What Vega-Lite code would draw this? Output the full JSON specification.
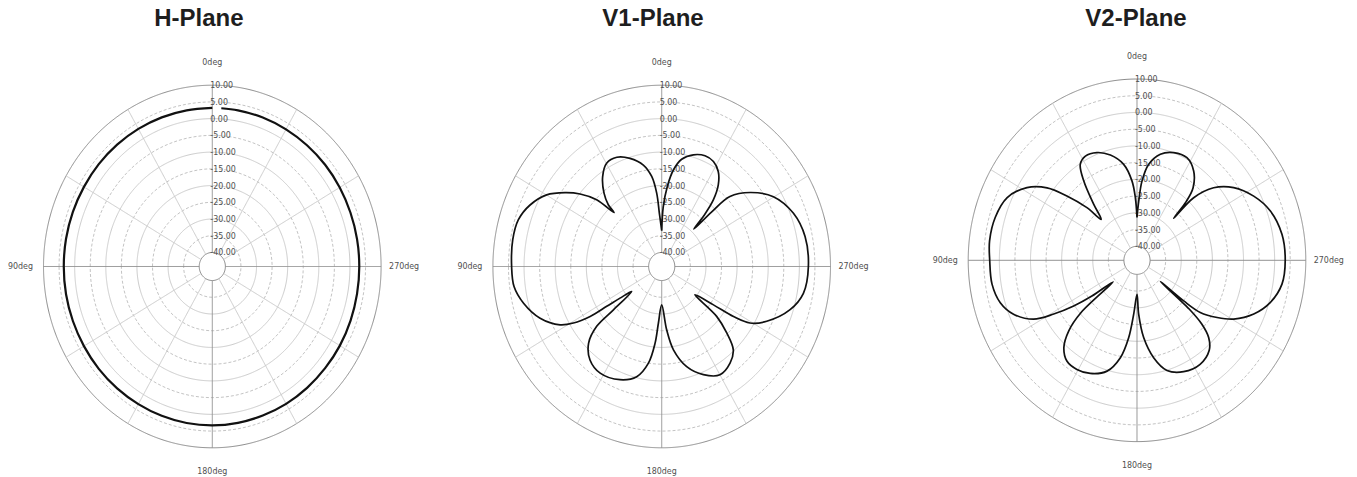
{
  "$schema": "https://vega.github.io/schema/vega-lite/v6.json",
  "padding": 0,
  "spacing": 0,
  "bounds": "flush",
  "config": {
    "view": {"stroke": null},
    "locale": {"number": {"decimal": ".", "thousands": ",", "grouping": [3], "currency": ["$", ""], "minus": "-"}},
    "title": {"font": "Liberation Sans", "fontSize": 24, "fontWeight": "bold", "color": "#1e1e1e", "baseline": "alphabetic", "offset": -30.5, "anchor": "middle"},
    "text": {"font": "Liberation Sans Narrow, DejaVu Sans Condensed, Arial Narrow, Liberation Sans, sans-serif", "fontSize": 8.8, "color": "#505050"}
  },
  "datasets": {
    "rings": [
      {"dB": -40, "kind": "edge"}, {"dB": -35, "kind": "minor"}, {"dB": -30, "kind": "major"},
      {"dB": -25, "kind": "minor"}, {"dB": -20, "kind": "major"}, {"dB": -15, "kind": "minor"},
      {"dB": -10, "kind": "major"}, {"dB": -5, "kind": "minor"}, {"dB": 0, "kind": "major"},
      {"dB": 5, "kind": "minor"}, {"dB": 10, "kind": "edge"}
    ],
    "spokes": [
      {"angle": 0, "kind": "axis"}, {"angle": 30, "kind": "grid"}, {"angle": 60, "kind": "grid"},
      {"angle": 90, "kind": "axis"}, {"angle": 120, "kind": "grid"}, {"angle": 150, "kind": "grid"},
      {"angle": 180, "kind": "axis"}, {"angle": 210, "kind": "grid"}, {"angle": 240, "kind": "grid"},
      {"angle": 270, "kind": "axis"}, {"angle": 300, "kind": "grid"}, {"angle": 330, "kind": "grid"}
    ],
    "anglabels": [
      {"angle": 0, "label": "0deg"}, {"angle": 90, "label": "90deg"},
      {"angle": 180, "label": "180deg"}, {"angle": 270, "label": "270deg"}
    ],
    "h": [
      {"angle": 0, "dB": 3.2}, {"angle": 10, "dB": 3.2}, {"angle": 20, "dB": 3.25}, {"angle": 30, "dB": 3.3},
      {"angle": 40, "dB": 3.35}, {"angle": 50, "dB": 3.4}, {"angle": 60, "dB": 3.4}, {"angle": 70, "dB": 3.45},
      {"angle": 80, "dB": 3.5}, {"angle": 90, "dB": 3.5}, {"angle": 100, "dB": 3.5}, {"angle": 110, "dB": 3.45},
      {"angle": 120, "dB": 3.4}, {"angle": 130, "dB": 3.4}, {"angle": 140, "dB": 3.35}, {"angle": 150, "dB": 3.3},
      {"angle": 160, "dB": 3.3}, {"angle": 170, "dB": 3.3}, {"angle": 180, "dB": 3.3}, {"angle": 190, "dB": 3.25},
      {"angle": 200, "dB": 3.2}, {"angle": 210, "dB": 3.2}, {"angle": 220, "dB": 3.15}, {"angle": 230, "dB": 3.1},
      {"angle": 240, "dB": 3.1}, {"angle": 250, "dB": 3.05}, {"angle": 260, "dB": 3.0}, {"angle": 270, "dB": 3.0},
      {"angle": 280, "dB": 3.0}, {"angle": 290, "dB": 3.0}, {"angle": 300, "dB": 3.05}, {"angle": 310, "dB": 3.1},
      {"angle": 320, "dB": 3.1}, {"angle": 330, "dB": 3.15}, {"angle": 340, "dB": 3.2}, {"angle": 350, "dB": 3.2},
      {"angle": 356.5, "dB": 3.2}
    ],
    "v1": [
      {"angle": 0, "dB": -33.5}, {"angle": 2.7, "dB": -28.3}, {"angle": 4.2, "dB": -22.2}, {"angle": 6.8, "dB": -17.1},
      {"angle": 11.0, "dB": -13.3}, {"angle": 17.5, "dB": -10.3}, {"angle": 23.8, "dB": -8.5}, {"angle": 29.8, "dB": -8.6},
      {"angle": 35.2, "dB": -11.3}, {"angle": 40.2, "dB": -15.5}, {"angle": 42.9, "dB": -19.0}, {"angle": 43.5, "dB": -22.0},
      {"angle": 46.3, "dB": -15.3}, {"angle": 50.4, "dB": -10.2}, {"angle": 54.6, "dB": -6.1}, {"angle": 59.9, "dB": -1.5},
      {"angle": 66.5, "dB": 1.9}, {"angle": 73.1, "dB": 3.9}, {"angle": 80.5, "dB": 4.3}, {"angle": 90, "dB": 4.0},
      {"angle": 97.2, "dB": 3.6}, {"angle": 103.9, "dB": 1.5}, {"angle": 111.6, "dB": -2.2}, {"angle": 118.1, "dB": -7.2},
      {"angle": 120.8, "dB": -11.2}, {"angle": 123.0, "dB": -16.8}, {"angle": 124.0, "dB": -22.9}, {"angle": 125.2, "dB": -27.8},
      {"angle": 127.8, "dB": -32.0}, {"angle": 129.9, "dB": -24.0}, {"angle": 130.6, "dB": -16.7}, {"angle": 134.3, "dB": -11.4},
      {"angle": 140.5, "dB": -8.0}, {"angle": 148.2, "dB": -6.7}, {"angle": 158.4, "dB": -7.8}, {"angle": 166.3, "dB": -10.3},
      {"angle": 171.6, "dB": -15.0}, {"angle": 174.7, "dB": -21.2}, {"angle": 176.4, "dB": -27.2}, {"angle": 180, "dB": -32.7},
      {"angle": 184.8, "dB": -25.2}, {"angle": 188.6, "dB": -19.0}, {"angle": 195.0, "dB": -13.2}, {"angle": 202.5, "dB": -9.2},
      {"angle": 210.0, "dB": -6.8}, {"angle": 217.2, "dB": -7.9}, {"angle": 222.7, "dB": -10.3}, {"angle": 226.4, "dB": -15.3},
      {"angle": 229.8, "dB": -21.1}, {"angle": 231.6, "dB": -30.6}, {"angle": 235.4, "dB": -24.0}, {"angle": 237.0, "dB": -16.7},
      {"angle": 239.2, "dB": -11.2}, {"angle": 244.1, "dB": -6.7}, {"angle": 252.6, "dB": -1.0}, {"angle": 260.0, "dB": 2.0},
      {"angle": 270.0, "dB": 2.9}, {"angle": 281.0, "dB": 2.7}, {"angle": 290.6, "dB": 1.0}, {"angle": 300.2, "dB": -2.7},
      {"angle": 307.9, "dB": -8.2}, {"angle": 313.7, "dB": -13.9}, {"angle": 315.5, "dB": -21.4}, {"angle": 317.3, "dB": -29.0},
      {"angle": 318.3, "dB": -23.8}, {"angle": 320.2, "dB": -18.3}, {"angle": 323.3, "dB": -13.8}, {"angle": 327.4, "dB": -10.5},
      {"angle": 332.1, "dB": -8.7}, {"angle": 337.2, "dB": -8.3}, {"angle": 343.1, "dB": -9.3}, {"angle": 348.7, "dB": -11.5},
      {"angle": 352.6, "dB": -15.1}, {"angle": 355.7, "dB": -20.2}, {"angle": 358.4, "dB": -26.3}, {"angle": 360, "dB": -33.5}
    ],
    "v2": [
      {"angle": 0, "dB": -31.4}, {"angle": 1.6, "dB": -25.5}, {"angle": 3.9, "dB": -20.4}, {"angle": 8.5, "dB": -15.2},
      {"angle": 15.2, "dB": -11.6}, {"angle": 21.8, "dB": -9.5}, {"angle": 28.0, "dB": -8.9}, {"angle": 32.4, "dB": -10.2},
      {"angle": 35.8, "dB": -15.0}, {"angle": 39.7, "dB": -22.4}, {"angle": 43.2, "dB": -27.4}, {"angle": 45.6, "dB": -21.7},
      {"angle": 49.5, "dB": -14.6}, {"angle": 53.1, "dB": -8.1}, {"angle": 58.4, "dB": -2.7}, {"angle": 65.8, "dB": 1.5},
      {"angle": 74.3, "dB": 3.1}, {"angle": 83.0, "dB": 3.5}, {"angle": 90, "dB": 3.1}, {"angle": 98.7, "dB": 2.9},
      {"angle": 106.1, "dB": 1.5}, {"angle": 112.1, "dB": -1.4}, {"angle": 117.9, "dB": -6.6}, {"angle": 121.0, "dB": -13.0},
      {"angle": 123.9, "dB": -19.7}, {"angle": 126.4, "dB": -26.2}, {"angle": 130.0, "dB": -34.2}, {"angle": 131.0, "dB": -20.5},
      {"angle": 133.9, "dB": -13.8}, {"angle": 138.0, "dB": -9.1}, {"angle": 143.2, "dB": -6.6}, {"angle": 149.4, "dB": -6.3},
      {"angle": 156.1, "dB": -7.2}, {"angle": 163.8, "dB": -9.7}, {"angle": 169.6, "dB": -14.6}, {"angle": 173.4, "dB": -20.9},
      {"angle": 176.2, "dB": -28.0}, {"angle": 180, "dB": -34.0}, {"angle": 181.9, "dB": -28.1}, {"angle": 185.3, "dB": -21.0},
      {"angle": 190.4, "dB": -14.6}, {"angle": 196.3, "dB": -9.9}, {"angle": 204.2, "dB": -7.7}, {"angle": 213.1, "dB": -7.1},
      {"angle": 220.8, "dB": -8.7}, {"angle": 224.9, "dB": -11.6}, {"angle": 227.5, "dB": -16.0}, {"angle": 229.0, "dB": -22.0},
      {"angle": 229.8, "dB": -34.4}, {"angle": 231.0, "dB": -24.9}, {"angle": 232.5, "dB": -18.6}, {"angle": 236.4, "dB": -13.3},
      {"angle": 240.5, "dB": -8.5}, {"angle": 246.8, "dB": -3.4}, {"angle": 253.5, "dB": 0.4}, {"angle": 261.3, "dB": 2.9},
      {"angle": 270, "dB": 3.4}, {"angle": 279.5, "dB": 3.0}, {"angle": 289.0, "dB": 1.1}, {"angle": 297.1, "dB": -2.1},
      {"angle": 305.0, "dB": -6.3}, {"angle": 311.4, "dB": -11.4}, {"angle": 315.8, "dB": -18.1}, {"angle": 316.9, "dB": -27.0},
      {"angle": 318.0, "dB": -20.6}, {"angle": 320.3, "dB": -16.0}, {"angle": 325.7, "dB": -11.9}, {"angle": 332.4, "dB": -9.6},
      {"angle": 339.9, "dB": -9.9}, {"angle": 346.7, "dB": -11.6}, {"angle": 352.6, "dB": -15.3}, {"angle": 356.1, "dB": -20.4},
      {"angle": 358.2, "dB": -26.5}, {"angle": 360, "dB": -31.4}
    ]
  },
  "hconcat": [
    {
      "width": 437, "height": 477,
      "title": {"text": "H-Plane", "dx": -19.7},
      "encoding": {
        "x": {"field": "px", "type": "quantitative", "scale": {"domain": [-68.18, 72.16], "nice": false, "zero": false}, "axis": null},
        "y": {"field": "py", "type": "quantitative", "scale": {"domain": [-62.93, 79.67], "nice": false, "zero": false}, "axis": null}
      },
      "layer": [
        {
          "data": {"name": "rings"},
          "transform": [{"calculate": "datum.dB + 44.2", "as": "rho"}, {"calculate": "0", "as": "px"}, {"calculate": "0", "as": "py"}],
          "mark": {"type": "point", "shape": "M -0.931 0 C -0.931 -0.552 -0.514 -1 0 -1 C 0.514 -1 0.931 -0.552 0.931 0 C 0.931 0.552 0.514 1 0 1 C -0.514 1 -0.931 0.552 -0.931 0 Z", "filled": false, "strokeWidth": 1, "opacity": 1},
          "encoding": {
            "size": {"field": "rho", "type": "quantitative", "scale": {"type": "pow", "exponent": 2, "domain": [0, 54.2], "range": [0, 131480]}, "legend": null},
            "stroke": {"field": "kind", "type": "nominal", "scale": {"domain": ["edge", "major", "minor"], "range": ["#8c8c8c", "#cccccc", "#c4c4c4"]}, "legend": null},
            "strokeDash": {"field": "kind", "type": "nominal", "scale": {"domain": ["edge", "major", "minor"], "range": [[1, 0], [1, 0], [3, 2]]}, "legend": null}
          }
        },
        {
          "data": {"name": "spokes"},
          "transform": [
            {"calculate": "-4.2*sin(datum.angle*PI/180)", "as": "px"},
            {"calculate": "4.2*cos(datum.angle*PI/180)", "as": "py"},
            {"calculate": "-54.2*sin(datum.angle*PI/180)", "as": "px2"},
            {"calculate": "54.2*cos(datum.angle*PI/180)", "as": "py2"}
          ],
          "mark": {"type": "rule", "strokeWidth": 1},
          "encoding": {
            "x2": {"field": "px2"}, "y2": {"field": "py2"},
            "stroke": {"field": "kind", "type": "nominal", "scale": {"domain": ["axis", "grid"], "range": ["#7a7a7a", "#c4c4c4"]}, "legend": null},
            "strokeDash": {"field": "kind", "type": "nominal", "scale": {"domain": ["axis", "grid"], "range": [[1, 0], [3, 3]]}, "legend": null}
          }
        },
        {
          "data": {"name": "rings"},
          "transform": [{"calculate": "datum.dB + 44.2", "as": "py"}, {"calculate": "0", "as": "px"}],
          "mark": {"type": "text", "align": "left", "baseline": "middle", "dx": -2},
          "encoding": {"text": {"field": "dB", "type": "quantitative", "format": ".2f"}}
        },
        {
          "data": {"name": "anglabels"},
          "transform": [
            {"calculate": "-61.6*sin(datum.angle*PI/180)", "as": "px"},
            {"calculate": "61.2*cos(datum.angle*PI/180)", "as": "py"}
          ],
          "mark": {"type": "text", "align": "center", "baseline": "middle"},
          "encoding": {"text": {"field": "label"}}
        },
        {
          "data": {"name": "h"},
          "transform": [
            {"calculate": "datum.dB + 44.2", "as": "rho"},
            {"calculate": "-datum.rho*sin(datum.angle*PI/180)", "as": "px"},
            {"calculate": "datum.rho*cos(datum.angle*PI/180)", "as": "py"}
          ],
          "mark": {"type": "line", "interpolate": "catmull-rom", "stroke": "#111111", "strokeWidth": 2.2},
          "encoding": {"order": {"field": "angle", "type": "quantitative"}}
        }
      ]
    },
    {
      "width": 462, "height": 477,
      "title": {"text": "V1-Plane", "dx": -15},
      "encoding": {
        "x": {"field": "px", "type": "quantitative", "scale": {"domain": [-72.16, 76.2], "nice": false, "zero": false}, "axis": null},
        "y": {"field": "py", "type": "quantitative", "scale": {"domain": [-62.93, 79.67], "nice": false, "zero": false}, "axis": null}
      },
      "layer": [
        {
          "data": {"name": "rings"},
          "transform": [{"calculate": "datum.dB + 44.2", "as": "rho"}, {"calculate": "0", "as": "px"}, {"calculate": "0", "as": "py"}],
          "mark": {"type": "point", "shape": "M -0.931 0 C -0.931 -0.552 -0.514 -1 0 -1 C 0.514 -1 0.931 -0.552 0.931 0 C 0.931 0.552 0.514 1 0 1 C -0.514 1 -0.931 0.552 -0.931 0 Z", "filled": false, "strokeWidth": 1, "opacity": 1},
          "encoding": {
            "size": {"field": "rho", "type": "quantitative", "scale": {"type": "pow", "exponent": 2, "domain": [0, 54.2], "range": [0, 131480]}, "legend": null},
            "stroke": {"field": "kind", "type": "nominal", "scale": {"domain": ["edge", "major", "minor"], "range": ["#8c8c8c", "#cccccc", "#c4c4c4"]}, "legend": null},
            "strokeDash": {"field": "kind", "type": "nominal", "scale": {"domain": ["edge", "major", "minor"], "range": [[1, 0], [1, 0], [3, 2]]}, "legend": null}
          }
        },
        {
          "data": {"name": "spokes"},
          "transform": [
            {"calculate": "-4.2*sin(datum.angle*PI/180)", "as": "px"},
            {"calculate": "4.2*cos(datum.angle*PI/180)", "as": "py"},
            {"calculate": "-54.2*sin(datum.angle*PI/180)", "as": "px2"},
            {"calculate": "54.2*cos(datum.angle*PI/180)", "as": "py2"}
          ],
          "mark": {"type": "rule", "strokeWidth": 1},
          "encoding": {
            "x2": {"field": "px2"}, "y2": {"field": "py2"},
            "stroke": {"field": "kind", "type": "nominal", "scale": {"domain": ["axis", "grid"], "range": ["#7a7a7a", "#c4c4c4"]}, "legend": null},
            "strokeDash": {"field": "kind", "type": "nominal", "scale": {"domain": ["axis", "grid"], "range": [[1, 0], [3, 3]]}, "legend": null}
          }
        },
        {
          "data": {"name": "rings"},
          "transform": [{"calculate": "datum.dB + 44.2", "as": "py"}, {"calculate": "0", "as": "px"}],
          "mark": {"type": "text", "align": "left", "baseline": "middle", "dx": -2},
          "encoding": {"text": {"field": "dB", "type": "quantitative", "format": ".2f"}}
        },
        {
          "data": {"name": "anglabels"},
          "transform": [
            {"calculate": "-61.6*sin(datum.angle*PI/180)", "as": "px"},
            {"calculate": "61.2*cos(datum.angle*PI/180)", "as": "py"}
          ],
          "mark": {"type": "text", "align": "center", "baseline": "middle"},
          "encoding": {"text": {"field": "label"}}
        },
        {
          "data": {"name": "v1"},
          "transform": [
            {"calculate": "datum.dB + 44.2", "as": "rho"},
            {"calculate": "-datum.rho*sin(datum.angle*PI/180)", "as": "px"},
            {"calculate": "datum.rho*cos(datum.angle*PI/180)", "as": "py"}
          ],
          "mark": {"type": "line", "interpolate": "catmull-rom", "stroke": "#111111", "strokeWidth": 1.7},
          "encoding": {"order": {"field": "angle", "type": "quantitative"}}
        }
      ]
    },
    {
      "width": 458, "height": 477,
      "title": {"text": "V2-Plane", "dx": 8},
      "encoding": {
        "x": {"field": "px", "type": "quantitative", "scale": {"domain": [-76.43, 70.65], "nice": false, "zero": false}, "axis": null},
        "y": {"field": "py", "type": "quantitative", "scale": {"domain": [-64.78, 77.82], "nice": false, "zero": false}, "axis": null}
      },
      "layer": [
        {
          "data": {"name": "rings"},
          "transform": [{"calculate": "datum.dB + 44.2", "as": "rho"}, {"calculate": "0", "as": "px"}, {"calculate": "0", "as": "py"}],
          "mark": {"type": "point", "shape": "M -0.931 0 C -0.931 -0.552 -0.514 -1 0 -1 C 0.514 -1 0.931 -0.552 0.931 0 C 0.931 0.552 0.514 1 0 1 C -0.514 1 -0.931 0.552 -0.931 0 Z", "filled": false, "strokeWidth": 1, "opacity": 1},
          "encoding": {
            "size": {"field": "rho", "type": "quantitative", "scale": {"type": "pow", "exponent": 2, "domain": [0, 54.2], "range": [0, 131480]}, "legend": null},
            "stroke": {"field": "kind", "type": "nominal", "scale": {"domain": ["edge", "major", "minor"], "range": ["#8c8c8c", "#cccccc", "#c4c4c4"]}, "legend": null},
            "strokeDash": {"field": "kind", "type": "nominal", "scale": {"domain": ["edge", "major", "minor"], "range": [[1, 0], [1, 0], [3, 2]]}, "legend": null}
          }
        },
        {
          "data": {"name": "spokes"},
          "transform": [
            {"calculate": "-4.2*sin(datum.angle*PI/180)", "as": "px"},
            {"calculate": "4.2*cos(datum.angle*PI/180)", "as": "py"},
            {"calculate": "-54.2*sin(datum.angle*PI/180)", "as": "px2"},
            {"calculate": "54.2*cos(datum.angle*PI/180)", "as": "py2"}
          ],
          "mark": {"type": "rule", "strokeWidth": 1},
          "encoding": {
            "x2": {"field": "px2"}, "y2": {"field": "py2"},
            "stroke": {"field": "kind", "type": "nominal", "scale": {"domain": ["axis", "grid"], "range": ["#7a7a7a", "#c4c4c4"]}, "legend": null},
            "strokeDash": {"field": "kind", "type": "nominal", "scale": {"domain": ["axis", "grid"], "range": [[1, 0], [3, 3]]}, "legend": null}
          }
        },
        {
          "data": {"name": "rings"},
          "transform": [{"calculate": "datum.dB + 44.2", "as": "py"}, {"calculate": "0", "as": "px"}],
          "mark": {"type": "text", "align": "left", "baseline": "middle", "dx": -2},
          "encoding": {"text": {"field": "dB", "type": "quantitative", "format": ".2f"}}
        },
        {
          "data": {"name": "anglabels"},
          "transform": [
            {"calculate": "-61.6*sin(datum.angle*PI/180)", "as": "px"},
            {"calculate": "61.2*cos(datum.angle*PI/180)", "as": "py"}
          ],
          "mark": {"type": "text", "align": "center", "baseline": "middle"},
          "encoding": {"text": {"field": "label"}}
        },
        {
          "data": {"name": "v2"},
          "transform": [
            {"calculate": "datum.dB + 44.2", "as": "rho"},
            {"calculate": "-datum.rho*sin(datum.angle*PI/180)", "as": "px"},
            {"calculate": "datum.rho*cos(datum.angle*PI/180)", "as": "py"}
          ],
          "mark": {"type": "line", "interpolate": "catmull-rom", "stroke": "#111111", "strokeWidth": 1.7},
          "encoding": {"order": {"field": "angle", "type": "quantitative"}}
        }
      ]
    }
  ]
}
